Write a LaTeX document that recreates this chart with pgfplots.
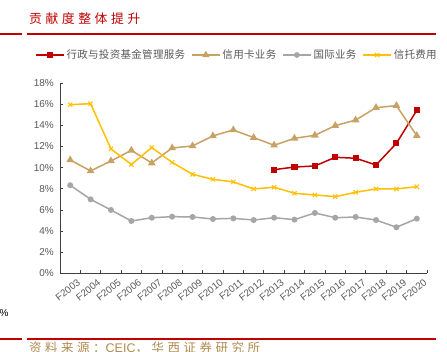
\documentclass[border=0pt]{standalone}
\usepackage{fontspec}
\setmainfont{Liberation Sans}
\newfontfamily\cjk{Noto Sans CJK SC}
\newfontfamily\cjkwide[LetterSpace=28]{Noto Sans CJK SC}
\newfontfamily\cjkleg[LetterSpace=3]{Noto Sans CJK SC}
\usepackage{pgfplots}
\pgfplotsset{compat=1.18}
\definecolor{cred}{RGB}{192,0,0}
\definecolor{ctan}{RGB}{200,162,100}
\definecolor{cgray}{RGB}{166,166,166}
\definecolor{cyel}{RGB}{255,192,0}
\definecolor{ctext}{RGB}{89,89,89}
\definecolor{caxis}{RGB}{64,64,64}
\definecolor{csrc}{RGB}{176,140,80}
\begin{document}
\begin{tikzpicture}[x=1pt,y=1pt]
\useasboundingbox (0,0) rectangle (447,352);
\fill[white] (0,0) rectangle (447,352);
\draw[cred, line width=2pt] (0,317.5) -- (22,317.5);
\draw[cred, line width=2pt] (27,317.5) -- (436,317.5);
\draw[cred, line width=2pt] (0,13) -- (22,13);
\draw[cred, line width=2pt] (27,13) -- (436,13);
\node[anchor=west, inner sep=0pt, text=cred, font=\cjkwide\fontsize{12.8}{12.8}\selectfont] at (29,333.3) {贡献度整体提升};
\node[anchor=north west, inner sep=0pt, text=csrc, font=\fontsize{12.5}{12.5}\selectfont] at (29,10.5) {{\cjkwide 资料来源：}CEIC{\cjkwide ，华西证券研究所}};
\node[anchor=west, inner sep=0pt, text=black, font=\fontsize{10}{10}\selectfont] at (-0.5,39.3) {\%};
\begin{axis}[
  at={(60pt,78.5pt)}, anchor=south west,
  scale only axis, width=367pt, height=190.5pt,
  xmin=-0.5, xmax=17.5, ymin=0, ymax=18,
  axis x line*=bottom, axis y line*=left,
  axis line style={caxis, line width=0.8pt, -},
  xtick={0,...,17},
  xticklabels={F2003,F2004,F2005,F2006,F2007,F2008,F2009,F2010,F2011,F2012,F2013,F2014,F2015,F2016,F2017,F2018,F2019,F2020},
  minor xtick={-0.5,0.5,...,17.5},
  major x tick style={draw=none},
  minor x tick style={caxis, line width=0.8pt},
  ytick={0,2,...,18},
  ytick style={caxis, line width=0.8pt},
  tick align=inside,
  major tick length=3pt, minor tick length=3pt,
  yticklabel={\pgfmathprintnumber{\tick}\%},
  /pgf/number format/assume math mode=true,
  tick label style={text=ctext},
  yticklabel style={anchor=east, inner sep=0pt, xshift=-6pt, font=\fontsize{10}{10}\selectfont},
  xticklabel style={rotate=38, anchor=north east, inner sep=0pt, xshift=2pt, yshift=-8pt, font=\fontsize{9.8}{9.8}\selectfont},
  clip=false,
  legend columns=4,
  legend style={at={(-0.068,1.147)}, anchor=west, draw=none, fill=none, inner sep=0pt,
    font=\cjkleg\fontsize{10.5}{10.5}\selectfont, text=ctext,
    /tikz/every even column/.append style={column sep=4pt}},
  legend image code/.code={\draw[mark repeat=2, mark phase=2, line width=1.3pt] plot coordinates {(0pt,0pt) (14pt,0pt) (28pt,0pt)};},
  legend cell align=left,
]
\addplot[cred, line width=1.5pt, mark=square*, mark size=2.3pt] coordinates {(10,9.81)(11,10.06)(12,10.16)(13,10.98)(14,10.89)(15,10.25)(16,12.3)(17,15.42)};
\addlegendentry{行政与投资基金管理服务}
\addplot[ctan, line width=1.5pt, mark=triangle*, mark size=3pt] coordinates {(0,10.73)(1,9.69)(2,10.63)(3,11.64)(4,10.44)(5,11.86)(6,12.05)(7,13.0)(8,13.56)(9,12.84)(10,12.12)(11,12.77)(12,13.06)(13,13.97)(14,14.5)(15,15.67)(16,15.86)(17,13.02)};
\addlegendentry{信用卡业务}
\addplot[cgray, line width=1.5pt, mark=*, mark size=2.2pt] coordinates {(0,8.34)(1,7.01)(2,6.0)(3,4.96)(4,5.27)(5,5.37)(6,5.34)(7,5.15)(8,5.21)(9,5.05)(10,5.27)(11,5.09)(12,5.72)(13,5.27)(14,5.34)(15,5.05)(16,4.37)(17,5.18)};
\addlegendentry{国际业务}
\addplot[cyel, line width=1.5pt, mark=x, mark size=3pt, mark options={line width=1pt}] coordinates {(0,15.95)(1,16.05)(2,11.77)(3,10.3)(4,11.9)(5,10.5)(6,9.37)(7,8.9)(8,8.65)(9,7.99)(10,8.15)(11,7.58)(12,7.42)(13,7.26)(14,7.67)(15,7.99)(16,7.99)(17,8.2)};
\addlegendentry{信托费用}
\end{axis}
\end{tikzpicture}
\end{document}
